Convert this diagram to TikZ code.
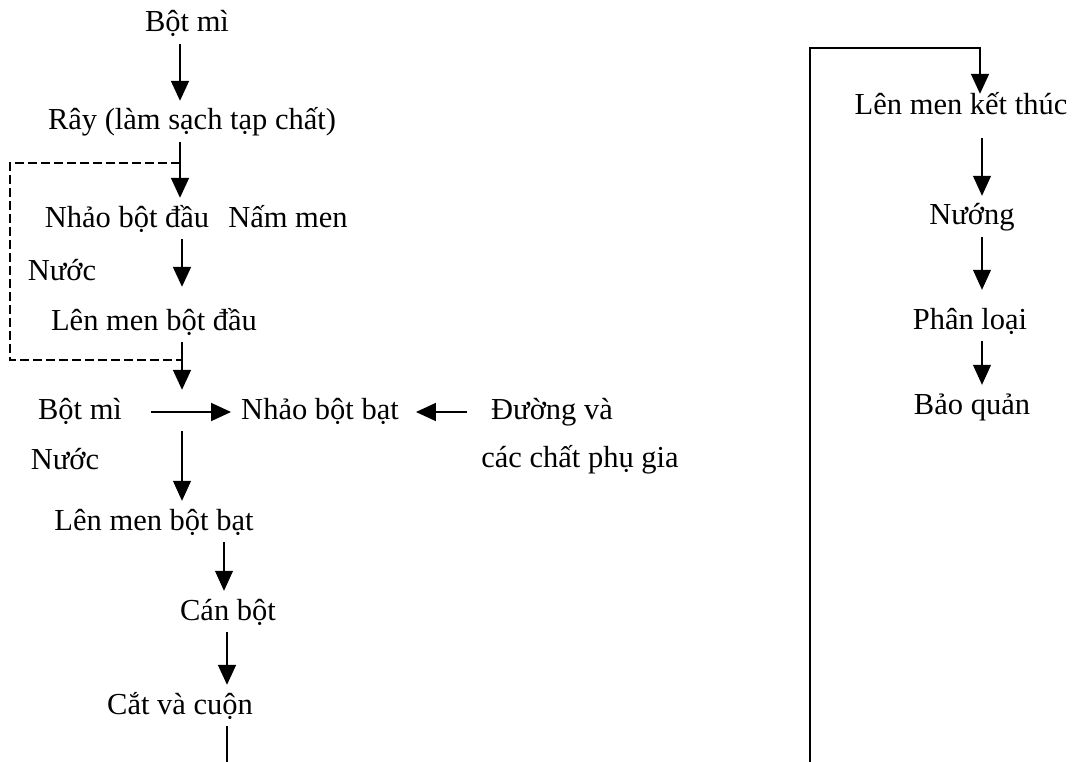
\documentclass[tikz,border=0pt]{standalone}
\usepackage{fontspec}
\setmainfont{Liberation Serif}
\usetikzlibrary{arrows.meta}

\tikzset{
	lbl/.style={inner sep=0pt, text height=21pt, text depth=7pt, font=\fontsize{30.5}{36}\selectfont},
	arr/.style={->, line width=1.8pt, shorten <=5pt, shorten >=8pt},
	thinarr/.style={arr, line width=1.1pt},
	dashpath/.style={line width=1.3pt, dash pattern=on 9pt off 4pt}
}

\begin{document}
\begin{tikzpicture}[>={Triangle[length=20pt,width=18pt]}, x=1pt, y=-1pt]
	  \useasboundingbox (0,0) rectangle (1073,762);
	  % left column
	  \node[lbl] (botmi1) at (187,25) {Bột mì};
	  \node[lbl] (ray) at (192,123) {Rây (làm sạch tạp chất)};
	  \node[lbl] (nhao1) at (127,220) {Nhảo bột đầu};
	  \node[lbl] (nammen) at (288,220) {Nấm men};
	  \node[lbl] (nuoc1) at (62,273) {Nước};
	  \node[lbl] (lenmen1) at (154,323) {Lên men bột đầu};
	  \node[lbl] (botmi2) at (80,412) {Bột mì};
	  \node[lbl] (nhao2) at (320,412) {Nhảo bột bạt};
	  \node[lbl] (duong) at (552,412) {Đường và};
	  \node[lbl] (phugia) at (580,460) {các chất phụ gia};
	  \node[lbl] (nuoc2) at (65,462) {Nước};
	  \node[lbl] (lenmen2) at (154,523) {Lên men bột bạt};
	  \node[lbl] (can) at (228,613) {Cán bột};
	  \node[lbl] (cat) at (180,707) {Cắt và cuộn};
	  \coordinate (ax1) at (180,0);
	  \coordinate (ax2) at (182,0);
	  \coordinate (ax3) at (224,0);
	  \coordinate (ax4) at (227,0);
	  \coordinate (cbot) at (227,762);
	  \draw[arr] (botmi1.south -| ax1) -- (ray.north -| ax1);
	  \draw[arr] (ray.south -| ax1) -- (nhao1.north -| ax1);
	  \draw[arr, shorten >=22pt] (nhao1.south -| ax2) -- (lenmen1.north -| ax2);
	  \draw[arr] (lenmen1.south -| ax2) -- (nhao2.north -| ax2);
	  \draw[arr, shorten <=29pt, shorten >=10pt] (botmi2) -- (nhao2);
	  \draw[arr, shorten <=24pt, shorten >=17pt] (duong) -- (nhao2);
	  \draw[thinarr] (nhao2.south -| ax2) -- (lenmen2.north -| ax2);
	  \draw[thinarr] (lenmen2.south -| ax3) -- (can.north -| ax3);
	  \draw[arr] (can.south -| ax4) -- (cat.north -| ax4);
	  \draw[line width=1.8pt, shorten <=5pt] (cat.south -| ax4) -- (cbot);
	  % recycle loop
	  \coordinate (d1) at (180,163);
	  \coordinate (d2) at (182,360);
	  \coordinate (dleft) at (10,360);
	  \draw[dashpath] (d1) -| (dleft) -- (d2);
	  % right column
	  \node[lbl] (lenmenkt) at (961,108) {Lên men kết thúc};
	  \node[lbl] (nuong) at (972,218) {Nướng};
	  \node[lbl] (phanloai) at (970,322) {Phân loại};
	  \node[lbl] (baoquan) at (972,407) {Bảo quản};
	  \coordinate (rb) at (810,762);
	  \coordinate (rt) at (980,48);
	  \coordinate (bx) at (982,0);
	  \draw[arr, shorten <=0pt, shorten >=0pt] (rb) |- (rt) -- (lenmenkt.north -| rt);
	  \draw[thinarr, shorten <=16pt] (lenmenkt.south -| bx) -- (nuong.north -| bx);
	  \draw[thinarr, shorten >=18pt] (nuong.south -| bx) -- (phanloai.north -| bx);
	  \draw[thinarr] (phanloai.south -| bx) -- (baoquan.north -| bx);
\end{tikzpicture}
\end{document}
